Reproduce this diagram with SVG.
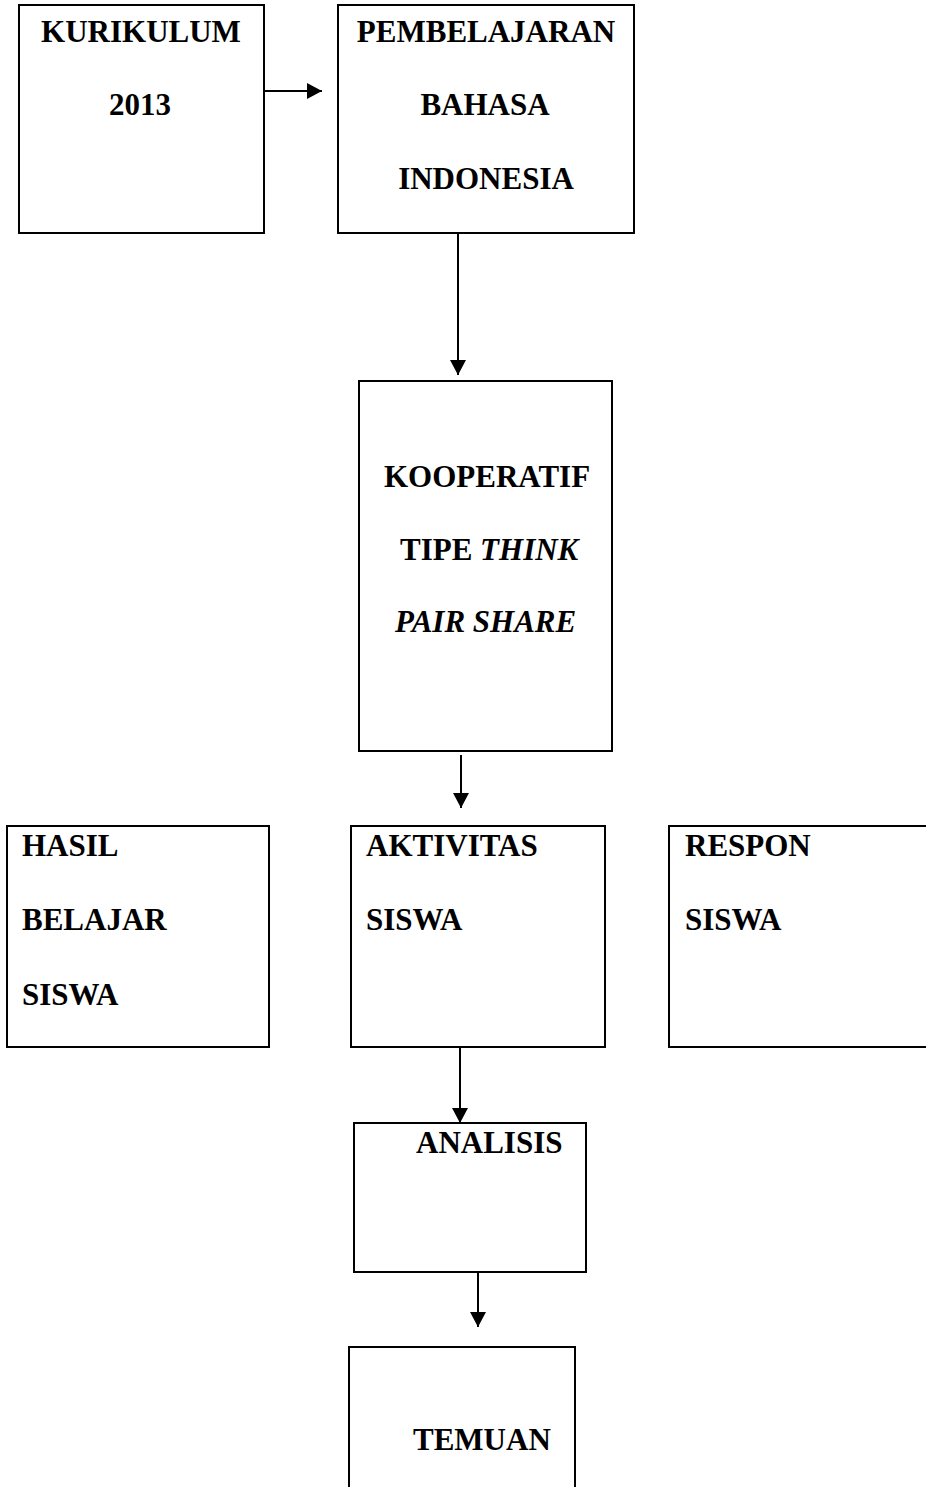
<svg xmlns="http://www.w3.org/2000/svg" width="926" height="1487" viewBox="0 0 926 1487">
<style>
.box{fill:#fff;stroke:#000;stroke-width:2}
.t{font-family:"Liberation Serif","Times New Roman",serif;font-weight:bold;font-size:31px;fill:#000}
.c{text-anchor:middle}
.i{font-style:italic}
.ln{stroke:#000;stroke-width:2;fill:none}
</style>
<defs>
<marker id="ah" markerUnits="userSpaceOnUse" markerWidth="16" markerHeight="16" refX="15" refY="8" orient="auto">
<path d="M0,0 L15,8 L0,16 Z" fill="#000"/>
</marker>
</defs>
<rect width="926" height="1487" fill="#fff"/>
<g id="connectors">
<line class="ln" x1="264" y1="91" x2="322" y2="91" marker-end="url(#ah)"/>
<line class="ln" x1="458" y1="229" x2="458" y2="375" marker-end="url(#ah)"/>
<line class="ln" x1="461" y1="755" x2="461" y2="808" marker-end="url(#ah)"/>
<line class="ln" x1="460" y1="1047" x2="460" y2="1123" marker-end="url(#ah)"/>
<line class="ln" x1="478" y1="1270" x2="478" y2="1327" marker-end="url(#ah)"/>
</g>
<g id="kurikulum">
<rect class="box" x="19" y="5" width="245" height="228"/>
<text class="t c" x="141" y="42">KURIKULUM</text>
<text class="t c" x="140" y="115">2013</text>
</g>
<g id="pembelajaran">
<rect class="box" x="338" y="5" width="296" height="228"/>
<text class="t c" x="486" y="42">PEMBELAJARAN</text>
<text class="t c" x="485" y="115">BAHASA</text>
<text class="t c" x="486" y="189">INDONESIA</text>
</g>
<g id="kooperatif">
<rect class="box" x="359" y="381" width="253" height="370"/>
<text class="t" x="384" y="487">KOOPERATIF</text>
<text class="t" x="400" y="560">TIPE <tspan class="i">THINK</tspan></text>
<text class="t i" x="395" y="632">PAIR SHARE</text>
</g>
<g id="hasil">
<rect class="box" x="7" y="826" width="262" height="221"/>
<text class="t" x="22" y="856">HASIL</text>
<text class="t" x="22" y="930">BELAJAR</text>
<text class="t" x="22" y="1005">SISWA</text>
</g>
<g id="aktivitas">
<rect class="box" x="351" y="826" width="254" height="221"/>
<text class="t" x="366" y="856">AKTIVITAS</text>
<text class="t" x="366" y="930">SISWA</text>
</g>
<g id="respon">
<rect class="box" x="669" y="826" width="262" height="221"/>
<text class="t" x="685" y="856">RESPON</text>
<text class="t" x="685" y="930">SISWA</text>
</g>
<g id="analisis">
<rect class="box" x="354" y="1123" width="232" height="149"/>
<text class="t" x="416" y="1153">ANALISIS</text>
</g>
<g id="temuan">
<rect class="box" x="349" y="1347" width="226" height="160"/>
<text class="t" x="413" y="1450">TEMUAN</text>
</g>
</svg>
